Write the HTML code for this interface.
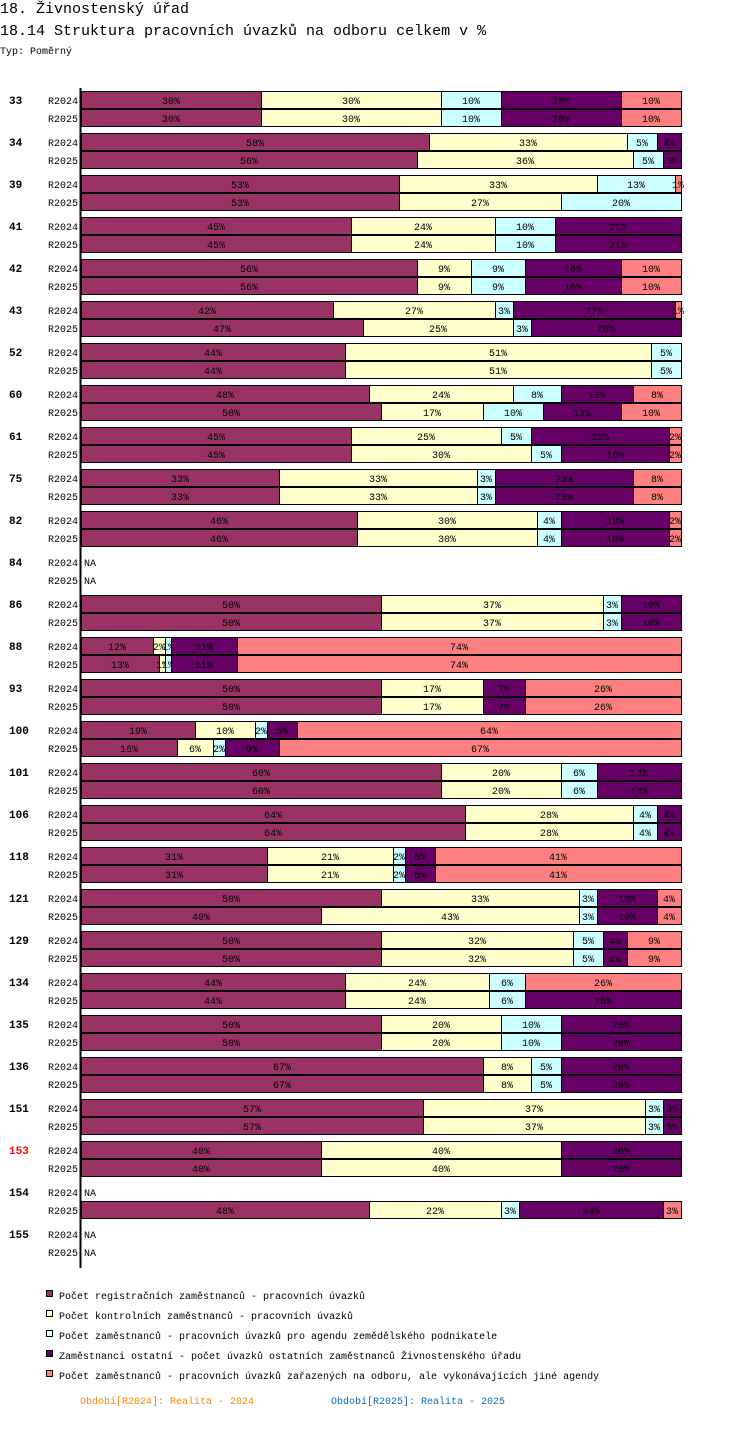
<!DOCTYPE html>
<html><head><meta charset="utf-8"><style>
body{margin:0;background:#fff;width:750px;height:1438px;overflow:hidden;font-family:"Liberation Mono",monospace;}
svg text{font-family:"Liberation Mono",monospace;}
</style></head><body>
<svg id="chart" width="750" height="1438" xmlns="http://www.w3.org/2000/svg">
<text x="0" y="13" font-size="15">18. Živnostenský úřad</text>
<text x="0" y="35" font-size="15">18.14 Struktura pracovních úvazků na odboru celkem v %</text>
<text x="0" y="54" font-size="10">Typ: Poměrný</text>
<line x1="80.5" y1="88" x2="80.5" y2="1268" stroke="#000" stroke-width="2"/>
<g id="bars"></g>
<g id="legend"></g>
<text x="80" y="1404" font-size="10" fill="#ff8000">Období[R2024]: Realita - 2024</text>
<text x="331" y="1404" font-size="10" fill="#0070c0">Období[R2025]: Realita - 2025</text>
</svg>
<script>
const groups=["33","34","39","41","42","43","52","60","61","75","82","84","86","88","93","100","101","106","118","121","129","134","135","136","151","153","154","155"];
const periods=["R2024","R2025"];
const values2024=[[30,30,10,20,10],[58,33,5,4,0],[53,33,13,0,1],[45,24,10,21,0],[56,9,9,16,10],[42,27,3,27,1],[44,51,5,0,0],[48,24,8,12,8],[45,25,5,23,2],[33,33,3,23,8],[46,30,4,18,2],null,[50,37,3,10,0],[12,2,1,11,74],[50,17,0,7,26],[19,10,2,5,64],[60,20,6,14,0],[64,28,4,4,0],[31,21,2,5,41],[50,33,3,10,4],[50,32,5,4,9],[44,24,6,0,26],[50,20,10,20,0],[67,8,5,20,0],[57,37,3,3,0],[40,40,0,20,0],null,null];
const values2025=[[30,30,10,20,10],[56,36,5,3,0],[53,27,20,0,0],[45,24,10,21,0],[56,9,9,16,10],[47,25,3,25,0],[44,51,5,0,0],[50,17,10,13,10],[45,30,5,18,2],[33,33,3,23,8],[46,30,4,18,2],null,[50,37,3,10,0],[13,1,1,11,74],[50,17,0,7,26],[16,6,2,9,67],[60,20,6,14,0],[64,28,4,4,0],[31,21,2,5,41],[40,43,3,10,4],[50,32,5,4,9],[44,24,6,26,0],[50,20,10,20,0],[67,8,5,20,0],[57,37,3,3,0],[40,40,0,20,0],[48,22,3,24,3],null];
const seriesNames=["Počet registračních zaměstnanců - pracovních úvazků","Počet kontrolních zaměstnanců - pracovních úvazků","Počet zaměstnanců - pracovních úvazků pro agendu zemědělského podnikatele","Zaměstnanci ostatní - počet úvazků ostatních zaměstnanců Živnostenského úřadu","Počet zaměstnanců - pracovních úvazků zařazených na odboru, ale vykonávajících jiné agendy"];
const colors=["#993366","#ffffcc","#ccffff","#660066","#ff8080"];
const NS="http://www.w3.org/2000/svg";
const X0=81,W=600;
function xScale(p){return X0+p/100*W;}
function yRow(g,k){return 100+g*42+k*18;}
function mk(tag,attrs,parent){const e=document.createElementNS(NS,tag);for(const k in attrs)e.setAttribute(k,attrs[k]);parent.appendChild(e);return e;}
const bars=document.getElementById('bars');
groups.forEach((g,gi)=>{
  const gl=mk('text',{x:9,y:yRow(gi,0)+4,'font-size':11,'font-weight':'bold',fill:g==="153"?"#ff0000":"#000"},bars);
  gl.textContent=g;
  
  
  [values2024,values2025].forEach((vals,k)=>{
    const y=yRow(gi,k);
    const pl=mk('text',{x:78,y:y+4,'font-size':10,'text-anchor':'end'},bars);
    pl.textContent=periods[k];
    
    
    const v=vals[gi];
    if(!v){const na=mk('text',{x:84,y:y+4,'font-size':10},bars);na.textContent="NA";
      
      return;}
    let cum=0;
    v.forEach((p,si)=>{
      if(p<=0)return;
      const x1=xScale(cum),x2=xScale(cum+p);cum+=p;
      const r=mk('rect',{x:Math.round(x1)+0.5,y:y-8.5,width:Math.max(1,Math.round(x2)-Math.round(x1)),height:17,fill:colors[si],stroke:'#000','stroke-width':1},bars);
      
      
      const t=mk('text',{x:(x1+x2)/2,y:y+4,'font-size':10,'text-anchor':'middle',fill:'#000'},bars);
      t.textContent=p+"%";
      
      
    });
  });
});
const lg=document.getElementById('legend');
seriesNames.forEach((n,i)=>{
  const y=1295+i*20;
  const r=mk('rect',{x:46.5,y:y-4.5,width:6,height:6,fill:colors[i],stroke:'#000'},lg);
  
  
  const t=mk('text',{x:59,y:y+4,'font-size':10},lg);
  t.textContent=n;
  
  
});
</script>
</body></html>
